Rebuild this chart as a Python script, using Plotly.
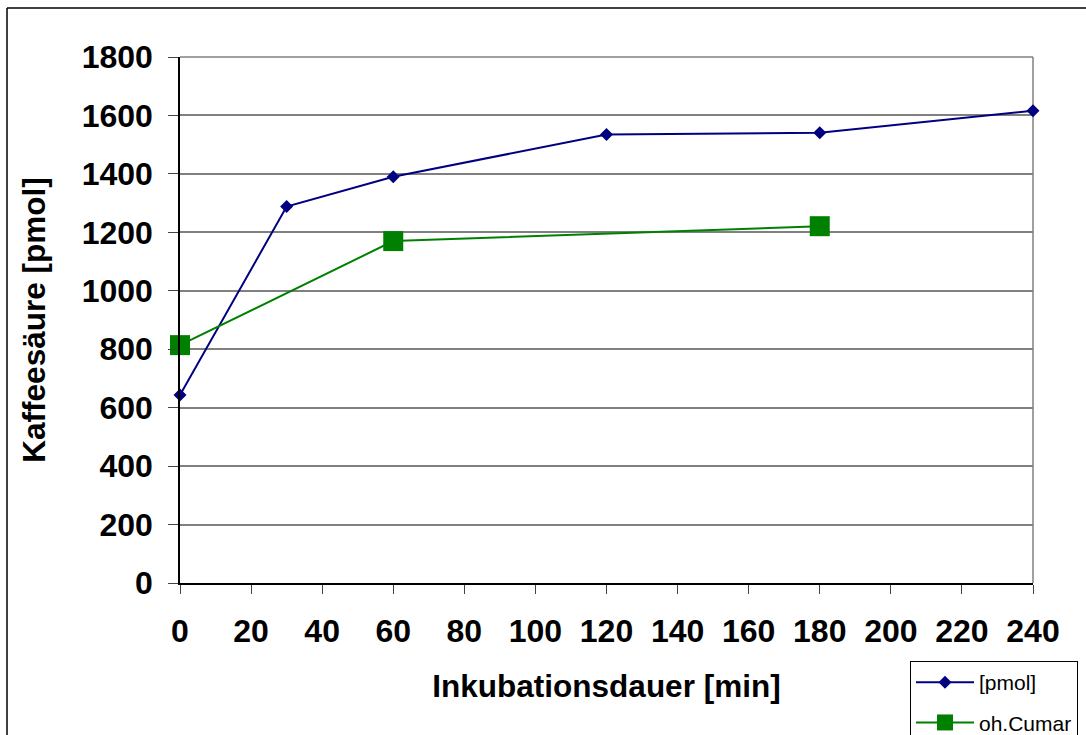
import plotly.graph_objects as go

# Incubation time points [min] and measured caffeic acid [pmol]
time_pmol = [0, 30, 60, 120, 180, 240]
values_pmol = [643, 1288, 1390, 1535, 1541, 1616]

time_cumar = [0, 60, 180]
values_cumar = [814, 1170, 1221]

x_ticks = list(range(0, 241, 20))
y_ticks = list(range(0, 1801, 200))

FONT = "Liberation Sans, Arial, sans-serif"

fig = go.Figure()

fig.add_trace(go.Scatter(
    x=time_pmol, y=values_pmol, name="[pmol]", mode="lines+markers",
    legendgroup="a",
    line=dict(color="#000080", width=2),
    marker=dict(symbol="diamond", size=10, color="#000080"),
    cliponaxis=False,
))
fig.add_trace(go.Scatter(
    x=time_cumar, y=values_cumar, name="oh.Cumar", mode="lines+markers",
    legendgroup="b",
    line=dict(color="#008000", width=2),
    marker=dict(symbol="square", size=20, color="#008000"),
    cliponaxis=False,
))

fig.update_layout(
    width=1086, height=735,
    margin=dict(l=180, r=53, t=57, b=152, autoexpand=False),
    paper_bgcolor="white", plot_bgcolor="white",
    font=dict(family=FONT, color="black"),
    showlegend=True,
    legend=dict(
        x=(910 - 180) / 853, y=(583 - 661) / 526,
        xanchor="left", yanchor="top",
        bgcolor="white", bordercolor="black", borderwidth=1,
        font=dict(size=21, family=FONT, color="black"),
        tracegroupgap=10, itemsizing="trace", itemwidth=58,
    ),
    xaxis=dict(
        range=[0, 240], tickvals=x_ticks, ticktext=[str(v) for v in x_ticks],
        showgrid=False, zeroline=False,
        showline=True, linecolor="black", linewidth=1.5,
        ticks="outside", ticklen=9, tickcolor="#444", tickwidth=1,
        tickfont=dict(size=32, family=FONT, color="black", weight="bold"),
        ticklabelstandoff=10,
        title=dict(text="<b>Inkubationsdauer [min]</b>", standoff=27,
                   font=dict(size=31.5, family=FONT, color="black")),
    ),
    yaxis=dict(
        range=[0, 1800], tickvals=y_ticks, ticktext=[str(v) for v in y_ticks],
        showgrid=True, gridcolor="#808080", gridwidth=1.5,
        zeroline=False,
        showline=True, linecolor="black", linewidth=1.5,
        ticks="outside", ticklen=10, tickcolor="#444", tickwidth=1,
        tickfont=dict(size=32, family=FONT, color="black", weight="bold"),
        ticklabelstandoff=9,
        title=dict(text="<b>Kaffeesäure [pmol]</b>", standoff=27,
                   font=dict(size=31.5, family=FONT, color="black")),
    ),
    shapes=[
        # plot area border on top and right
        dict(type="line", xref="paper", yref="paper", x0=0, x1=1, y0=1, y1=1,
             line=dict(color="#808080", width=1.5), layer="below"),
        dict(type="line", xref="paper", yref="paper", x0=1, x1=1, y0=0, y1=1,
             line=dict(color="#808080", width=1.5), layer="below"),
        # chart frame (left and top edges)
        dict(type="line", xref="paper", yref="paper",
             x0=(7 - 180) / 853, x1=(7 - 180) / 853,
             y0=(583 - 8) / 526, y1=(583 - 740) / 526,
             line=dict(color="black", width=1.5)),
        dict(type="line", xref="paper", yref="paper",
             x0=(7 - 180) / 853, x1=(1090 - 180) / 853,
             y0=(583 - 8) / 526, y1=(583 - 8) / 526,
             line=dict(color="black", width=1.5)),
    ],
)

fig.write_html("out.html")
